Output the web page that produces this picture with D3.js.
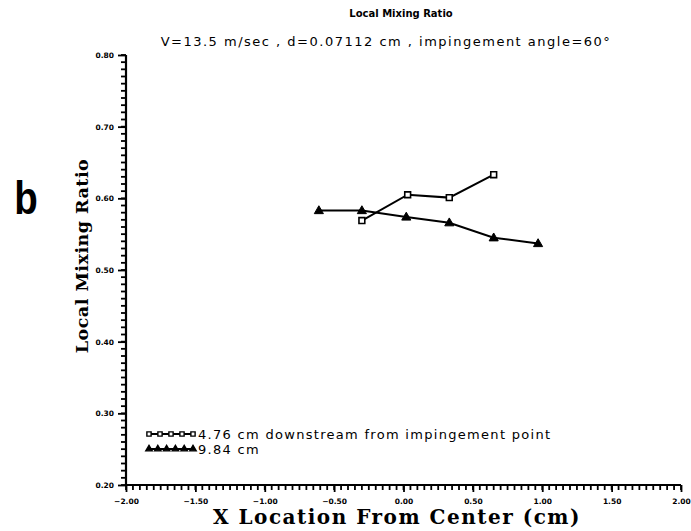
<!DOCTYPE html>
<html>
<head>
<meta charset="utf-8">
<script src="https://d3js.org/d3.v7.min.js"></script>
<style>
  body { margin: 0; background: #fff; }
  text { fill: #000; }
</style>
</head>
<body>
<script>
// local mixing ratio vs. x location, two downstream stations
const xTicks = [-2.0, -1.5, -1.0, -0.5, 0.0, 0.5, 1.0, 1.5, 2.0];
const yTicks = [0.2, 0.3, 0.4, 0.5, 0.6, 0.7, 0.8];

const near_x = [-0.30, 0.03, 0.33, 0.65];
const near_y = [0.569, 0.605, 0.601, 0.633];

const far_x = [-0.61, -0.30, 0.02, 0.33, 0.65, 0.97];
const far_y = [0.583, 0.583, 0.574, 0.566, 0.545, 0.537];

const seriesNames = ["4.76 cm downstream from impingement point", "9.84 cm"];

const width = 691, height = 531;

const svg = d3.select("body").append("svg")
    .attr("width", width)
    .attr("height", height);

const x = d3.scaleLinear().domain([-2, 2]).range([126, 681]);
const y = d3.scaleLinear().domain([0.2, 0.8]).range([485, 55]);
const fmt = d3.format(".2f");

// minor ticks: every 0.05 on x, every 0.01 on y
const xMinor = d3.range(0, 81).map(i => -2 + i * 0.05);
const yMinor = d3.range(0, 61).map(i => 0.2 + i * 0.01);

const minor = svg.append("g")
    .attr("stroke", "#000")
    .attr("stroke-width", 1.8);

minor.selectAll(".xm")
    .data(xMinor)
    .join("line")
    .attr("class", "xm")
    .attr("x1", d => x(d)).attr("x2", d => x(d))
    .attr("y1", y(0.2)).attr("y2", y(0.2) + 5);

minor.selectAll(".ym")
    .data(yMinor)
    .join("line")
    .attr("class", "ym")
    .attr("x1", x(-2) - 5).attr("x2", x(-2))
    .attr("y1", d => y(d)).attr("y2", d => y(d));

// major ticks with labels
svg.append("g")
    .attr("transform", `translate(0,${y(0.2)})`)
    .call(d3.axisBottom(x).tickValues(xTicks).tickSize(7).tickPadding(7).tickFormat(fmt))
    .call(g => g.select(".domain").attr("d", `M${x(-2)},0H${x(2)}`).attr("stroke-width", 2.2))
    .call(g => g.selectAll("line").attr("stroke-width", 1.8))
    .call(g => g.selectAll("text")
        .attr("font-family", "DejaVu Sans")
        .attr("font-weight", "bold")
        .attr("font-size", 7.5));

svg.append("g")
    .attr("transform", `translate(${x(-2)},0)`)
    .call(d3.axisLeft(y).tickValues(yTicks).tickSize(8).tickPadding(4).tickFormat(fmt))
    .call(g => g.select(".domain").attr("d", `M0,${y(0.8)}V${y(0.2)}`).attr("stroke-width", 2.2))
    .call(g => g.selectAll("line").attr("stroke-width", 1.8))
    .call(g => g.selectAll("text")
        .attr("font-family", "DejaVu Sans")
        .attr("font-weight", "bold")
        .attr("font-size", 7.5));

// titles
svg.append("text")
    .attr("x", 401).attr("y", 17)
    .attr("text-anchor", "middle")
    .attr("font-family", "DejaVu Sans")
    .attr("font-weight", "bold")
    .attr("font-size", 10)
    .text("Local Mixing Ratio");

svg.append("text")
    .attr("x", 386).attr("y", 46)
    .attr("text-anchor", "middle")
    .attr("font-family", "DejaVu Sans")
    .attr("font-size", 13)
    .attr("letter-spacing", 1.5)
    .text("V=13.5 m/sec , d=0.07112 cm , impingement angle=60°");

svg.append("text")
    .attr("x", 397).attr("y", 524)
    .attr("text-anchor", "middle")
    .attr("font-family", "DejaVu Serif")
    .attr("font-weight", "bold")
    .attr("font-size", 20)
    .attr("letter-spacing", 1.5)
    .text("X Location From Center (cm)");

svg.append("text")
    .attr("transform", "translate(88,256) rotate(-90)")
    .attr("text-anchor", "middle")
    .attr("font-family", "DejaVu Serif")
    .attr("font-weight", "bold")
    .attr("font-size", 17.5)
    .attr("letter-spacing", 0.5)
    .text("Local Mixing Ratio");

svg.append("text")
    .attr("transform", "translate(26,214) scale(0.82,1)")
    .attr("text-anchor", "middle")
    .attr("font-family", "Liberation Sans")
    .attr("font-weight", "bold")
    .attr("font-size", 47)
    .text("b");

// series
const line = d3.line().x(d => x(d[0])).y(d => y(d[1]));
const nearPts = near_x.map((v, i) => [v, near_y[i]]);
const farPts = far_x.map((v, i) => [v, far_y[i]]);

[nearPts, farPts].forEach(pts => {
    svg.append("path")
        .datum(pts)
        .attr("d", line)
        .attr("fill", "none")
        .attr("stroke", "#000")
        .attr("stroke-width", 2);
});

const sq = d3.symbol().type(d3.symbolSquare).size(34);
const tri = d3.symbol().type(d3.symbolTriangle).size(36);

svg.append("g").selectAll("path")
    .data(nearPts)
    .join("path")
    .attr("transform", d => `translate(${x(d[0])},${y(d[1])})`)
    .attr("d", sq)
    .attr("fill", "#fff")
    .attr("stroke", "#000")
    .attr("stroke-width", 1.6);

svg.append("g").selectAll("path")
    .data(farPts)
    .join("path")
    .attr("transform", d => `translate(${x(d[0])},${y(d[1]) + 0.5})`)
    .attr("d", tri)
    .attr("fill", "#000")
    .attr("stroke", "#000")
    .attr("stroke-width", 1);

// legend
const legend = svg.append("g");
const legendRows = [
    { type: d3.symbolSquare, n: 5, fill: "#fff", y: 434 },
    { type: d3.symbolTriangle, n: 6, fill: "#000", y: 449 }
];
legendRows.forEach((r, k) => {
    const x0 = 149, span = 44;
    legend.append("line")
        .attr("x1", x0).attr("x2", x0 + span)
        .attr("y1", r.y).attr("y2", r.y)
        .attr("stroke", "#000").attr("stroke-width", 2);
    legend.selectAll(null)
        .data(d3.range(r.n))
        .join("path")
        .attr("transform", i => `translate(${x0 + i * span / (r.n - 1)},${r.y})`)
        .attr("d", d3.symbol().type(r.type).size(18))
        .attr("fill", r.fill)
        .attr("stroke", "#000")
        .attr("stroke-width", 1.4);
    legend.append("text")
        .attr("x", 198).attr("y", r.y + 4.5)
        .attr("font-family", "DejaVu Sans")
        .attr("font-size", 13)
        .attr("letter-spacing", 1.3)
        .text(seriesNames[k]);
});
</script>
</body>
</html>
